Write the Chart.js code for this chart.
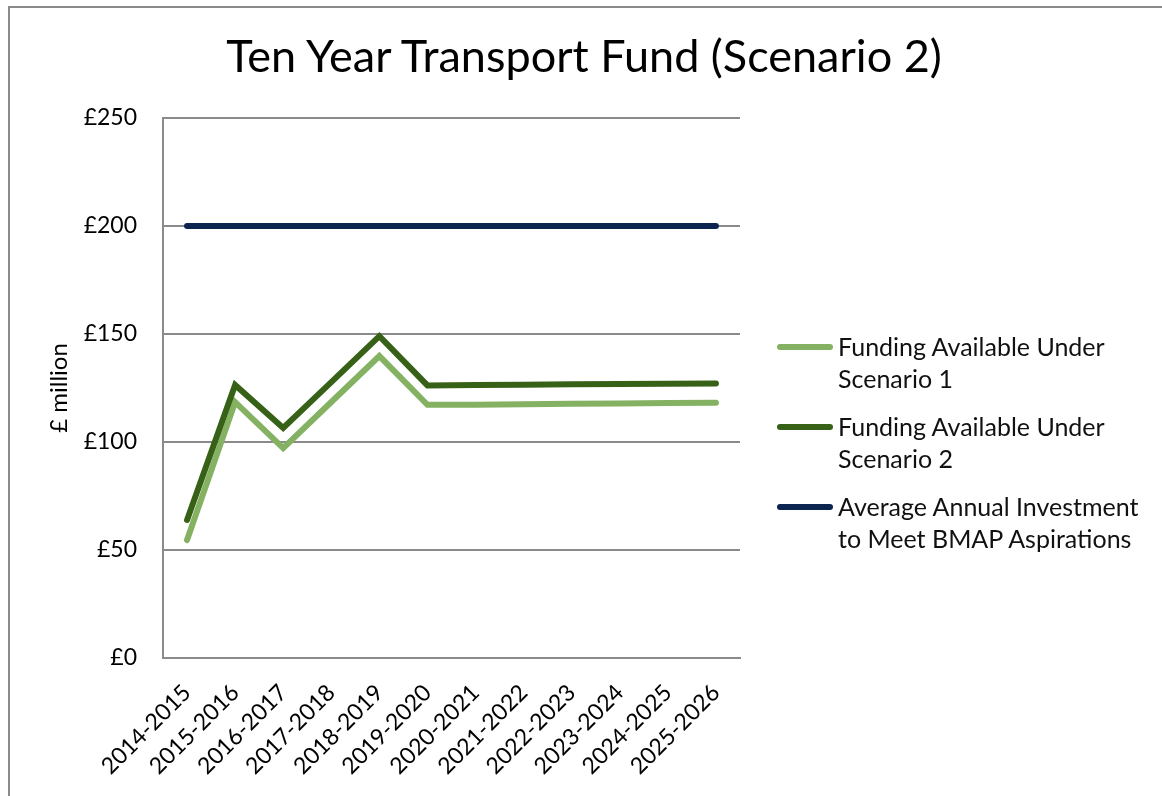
<!DOCTYPE html>
<html>
<head>
<meta charset="utf-8">
<script src="https://cdn.jsdelivr.net/npm/chart.js@4/dist/chart.umd.min.js"></script>
<style>
  html, body { margin: 0; padding: 0; background: #fff; overflow: hidden; }
  .wrap { position: relative; width: 1162px; height: 796px; font-family: Lato, sans-serif; }
  .frame { position: absolute; left: 8px; top: 6px; width: 1300px; height: 900px;
    border: 2px solid #8a8a8a; box-sizing: border-box; pointer-events: none; }
  canvas { position: absolute; left: 0; top: 0; }
  .title { position: absolute; left: 0; width: 1168px; top: 28px; text-align: center;
    font-size: 45px; line-height: 54px; color: #000; white-space: nowrap; }
  .legend { position: absolute; left: 777px; top: 330px; font-size: 25px; line-height: 32px; color: #111; }
  .legend .item { position: relative; padding-left: 61px; margin-bottom: 16px; }
  .legend .mark { position: absolute; left: 0; top: 14px; width: 56px; height: 6px; border-radius: 3px; }
</style>
</head>
<body>
<div class="wrap">
  <canvas id="chart" width="1162" height="796"></canvas>
  <div class="frame"></div>
  <div class="title">Ten Year Transport Fund (Scenario 2)</div>
  <div class="legend" id="legend"></div>
</div>
<script>
// ===== Ten Year Transport Fund (Scenario 2) =====
const YEARS = ["2014-2015", "2015-2016", "2016-2017", "2017-2018", "2018-2019", "2019-2020",
  "2020-2021", "2021-2022", "2022-2023", "2023-2024", "2024-2025", "2025-2026"];
const SCENARIO_1 = [54.6, 118.5, 97.2, 118.5, 139.8, 117.2, 117.3, 117.5, 117.7, 117.8, 118.0, 118.2];
const SCENARIO_2 = [63.9, 126.4, 106.5, 127.7, 149.0, 126.2, 126.4, 126.5, 126.7, 126.8, 127.0, 127.1];
const BMAP = [200, 200, 200, 200, 200, 200, 200, 200, 200, 200, 200, 200];
const LABELS = ["Funding Available Under\nScenario 1", "Funding Available Under\nScenario 2",
  "Average Annual Investment\nto Meet BMAP Aspirations"];

const LIGHT = "#84b262", DARK = "#376117", NAVY = "#0c2450", GRID = "#8a8a8a";
const FONT = "Lato, sans-serif";

const el = (id) => document.getElementById(id);

function line(label, data, color, order) {
  return { label, data, borderColor: color, backgroundColor: color, borderWidth: 6,
    pointRadius: 0, tension: 0, borderCapStyle: "round", borderJoinStyle: "miter", order };
}

new Chart(el("chart"), {
  type: "line",
  data: {
    labels: YEARS,
    datasets: [
      line(LABELS[0], SCENARIO_1, LIGHT, 1),
      line(LABELS[1], SCENARIO_2, DARK, 0),
      line(LABELS[2], BMAP, NAVY, 2)
    ]
  },
  options: {
    responsive: false, animation: false,
    layout: { padding: { left: 0, right: 422, top: 118, bottom: 0 } },
    plugins: {
      legend: { display: false },
      tooltip: { enabled: false },
      title: { display: false }
    },
    scales: {
      x: {
        offset: true,
        grid: { display: false, drawTicks: false },
        border: { color: GRID, width: 2 },
        ticks: { color: "#000", font: { family: FONT, size: 23 }, minRotation: 45, maxRotation: 45,
          padding: 21, autoSkip: false },
        afterFit: s => { s.height = 138; }
      },
      y: {
        min: 0, max: 250,
        grid: { color: GRID, lineWidth: 2, drawTicks: false },
        border: { color: GRID, width: 2 },
        ticks: { stepSize: 50, color: "#000", padding: 26, font: { family: FONT, size: 23 },
          callback: v => "£" + v },
        title: { display: true, text: "£ million", color: "#000",
          font: { family: FONT, size: 24 }, padding: { top: 45, bottom: 0 } },
        afterFit: s => { s.width = 163; }
      }
    }
  }
});

// legend (multi-line labels, drawn as html)
const colors = [LIGHT, DARK, NAVY];
el("legend").innerHTML = LABELS.map((t, i) =>
  `<div class="item"><span class="mark" style="background:${colors[i]}"></span>${t.replace("\n", "<br>")}</div>`
).join("");
</script>
</body>
</html>
